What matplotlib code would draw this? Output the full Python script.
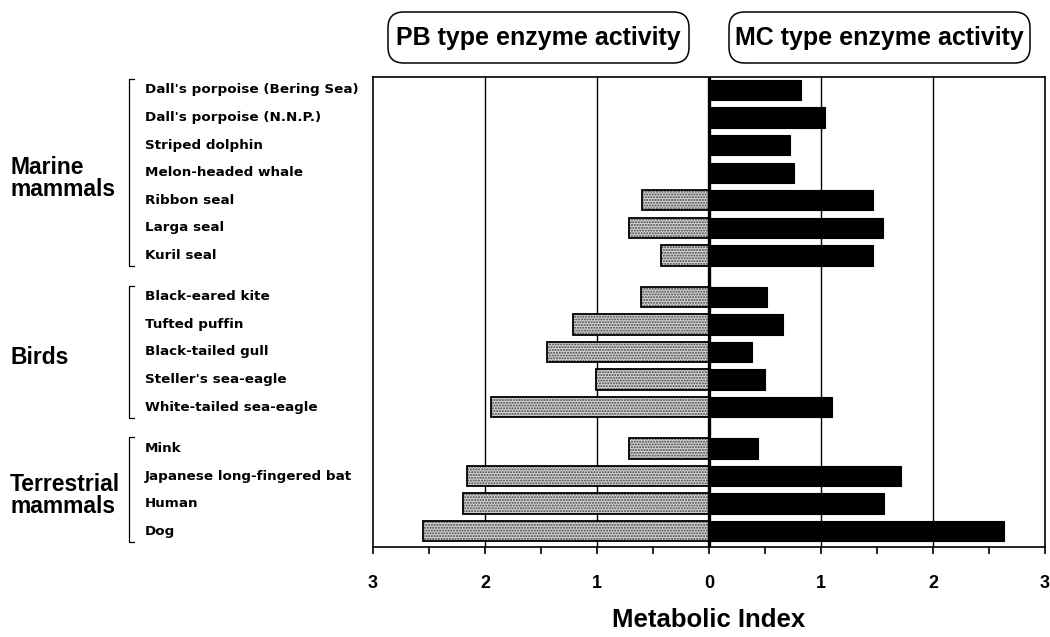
import matplotlib.pyplot as plt
import matplotlib.transforms as mtransforms
from matplotlib.patches import FancyBboxPatch

# species, top to bottom
species = [
    "Dall's porpoise (Bering Sea)", "Dall's porpoise (N.N.P.)", "Striped dolphin",
    "Melon-headed whale", "Ribbon seal", "Larga seal", "Kuril seal",
    "Black-eared kite", "Tufted puffin", "Black-tailed gull",
    "Steller's sea-eagle", "White-tailed sea-eagle",
    "Mink", "Japanese long-fingered bat", "Human", "Dog",
]
# row positions (half-row gap between groups)
rows = [0, 1, 2, 3, 4, 5, 6, 7.5, 8.5, 9.5, 10.5, 11.5, 13, 14, 15, 16]

# metabolic index values (0 = no bar)
pb_activity = [0, 0, 0, 0, 0.60, 0.71, 0.43,
               0.61, 1.21, 1.45, 1.01, 1.95,
               0.71, 2.16, 2.20, 2.55]
mc_activity = [0.82, 1.04, 0.72, 0.76, 1.46, 1.55, 1.46,
               0.52, 0.66, 0.38, 0.50, 1.10,
               0.44, 1.71, 1.56, 2.63]

groups = ["Marine\nmammals", "Birds", "Terrestrial\nmammals"]
group_span = [(0, 6), (7.5, 11.5), (13, 16)]

tick_vals = [-3, -2, -1, 0, 1, 2, 3]
tick_text = ["3", "2", "1", "0", "1", "2", "3"]

headers = ["PB type enzyme activity", "MC type enzyme activity"]

plt.rcParams['font.family'] = ['Liberation Sans', 'DejaVu Sans']

W, H = 1050, 637
fig = plt.figure(figsize=(10.5, 6.37), dpi=100)
ax = fig.add_axes([373 / W, 1 - 547 / H, 672 / W, 470 / H])

bar_h = 0.74
pb_neg = [-v for v in pb_activity]

# PB bars: stippled grey, drawn in two passes (stipple + black outline)
ax.barh(rows, pb_neg, height=bar_h, color="#d4d4d4", edgecolor="#404040",
        hatch="......", linewidth=0, zorder=2)
pb_rows = [r for r, v in zip(rows, pb_activity) if v > 0]
pb_vals = [-v for v in pb_activity if v > 0]
ax.barh(pb_rows, pb_vals, height=bar_h, fill=False, edgecolor="black",
        linewidth=1.3, zorder=3)

# MC bars: solid black
ax.barh(rows, mc_activity, height=bar_h, color="black", edgecolor="black",
        linewidth=0.8, zorder=3)

# grid and zero line
for g in [-2, -1, 1, 2]:
    ax.axvline(g, color="black", lw=1.0, zorder=1)
ax.axvline(0, color="black", lw=2.4, zorder=4)

ax.set_xlim(-3, 3)
ax.set_ylim(16.57, -0.47)
ax.set_xticks(tick_vals)
ax.set_xticklabels(tick_text, fontsize=13, fontweight="bold")
ax.set_xticks([-2.5, -1.5, -0.5, 0.5, 1.5, 2.5], minor=True)
ax.tick_params(axis="x", which="both", direction="out", length=5, width=1.2, pad=15)
ax.set_yticks([])
for s in ax.spines.values():
    s.set_linewidth(1.2)

ax.set_xlabel("Metabolic Index", fontsize=18.5, fontweight="bold", labelpad=12)

# species names and group brackets left of the axes
trans = mtransforms.blended_transform_factory(ax.transAxes, ax.transData)
for name, r in zip(species, rows):
    ax.text(-0.340, r, name, transform=trans, ha="left", va="center",
            fontsize=9.7, fontweight="bold", family="DejaVu Sans", clip_on=False)

for label, (y0, y1) in zip(groups, group_span):
    ax.plot([-0.356, -0.363, -0.363, -0.356], [y0 - 0.4, y0 - 0.4, y1 + 0.4, y1 + 0.4],
            transform=trans, color="black", lw=0.9, clip_on=False)
    ax.text(-0.540, (y0 + y1) / 2 + 0.2, label, transform=trans, ha="left", va="center",
            fontsize=16.5, fontweight="bold", linespacing=0.95, clip_on=False)

# header boxes (rounded frames, text nearly filling them)
for txt, x0 in zip(headers, [388, 729]):
    box = FancyBboxPatch((x0 / W, 1 - 63 / H), 301 / W, 51 / H,
                         boxstyle="round,pad=0,rounding_size=0.015",
                         transform=fig.transFigure, fc="white", ec="black", lw=1.1,
                         mutation_aspect=W / H)
    fig.patches.append(box)
    fig.text((x0 + 150.5) / W, 1 - 38 / H, txt, ha="center", va="center",
             fontsize=18, fontweight="bold")

fig.savefig("out.png", dpi=100)
